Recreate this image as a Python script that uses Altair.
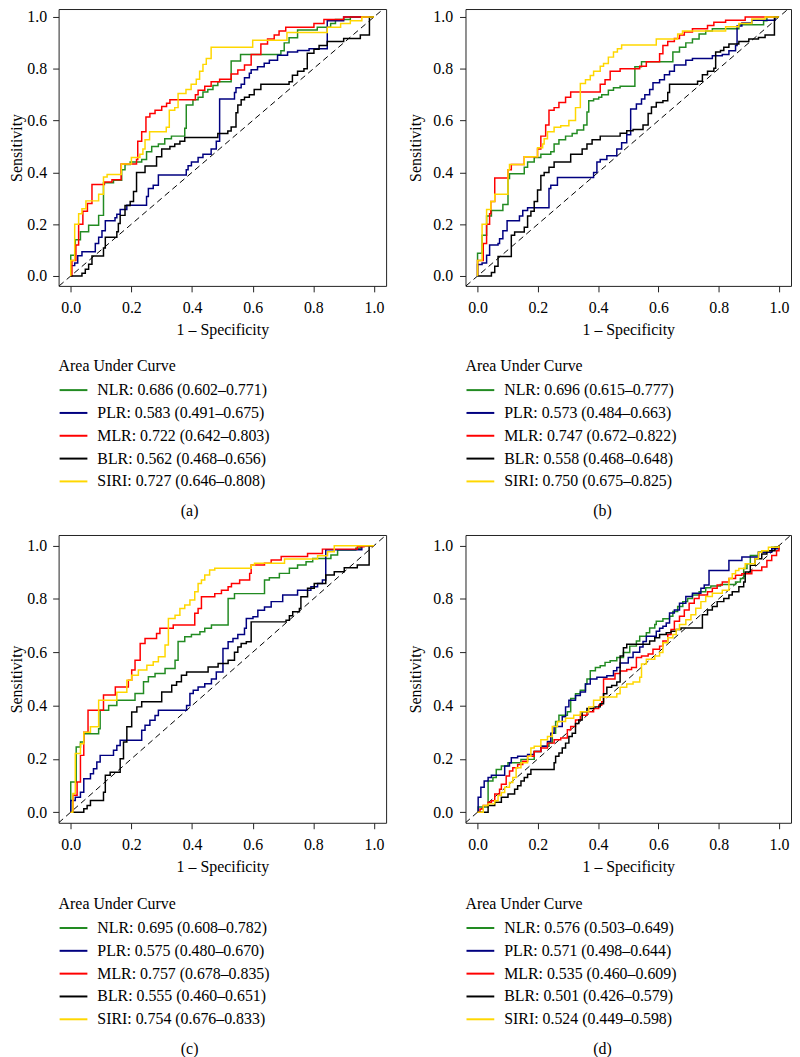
import altair as alt
import pandas as pd

FONT = "Liberation Serif"
SERIES = ["NLR", "PLR", "MLR", "BLR", "SIRI"]
COLORS = ["#228B22", "#000080", "#FF0000", "#000000", "#FFD700"]
TICKS = [0.0, 0.2, 0.4, 0.6, 0.8, 1.0]

# ---------------- panel (a) ----------------
A_NLR = [(0,0),(0,0.08),(0.015,0.14),(0.032,0.171),(0.059,0.196),(0.092,0.234),(0.108,0.36),(0.141,0.37),(0.168,0.41),(0.179,0.43),(0.196,0.44),(0.234,0.45),(0.25,0.48),(0.267,0.5),(0.289,0.51),(0.31,0.53),(0.332,0.54),(0.376,0.57),(0.381,0.66),(0.403,0.68),(0.42,0.69),(0.436,0.71),(0.452,0.72),(0.469,0.735),(0.485,0.75),(0.529,0.83),(0.56,0.855),(0.693,0.87),(0.704,0.9),(0.72,0.92),(0.748,0.95),(0.813,0.96),(0.857,0.975),(0.873,0.99),(0.922,1.0),(1,1)]
A_PLR = [(0,0),(0,0.04),(0.013,0.05),(0.023,0.078),(0.037,0.094),(0.081,0.125),(0.092,0.15),(0.103,0.175),(0.114,0.213),(0.146,0.225),(0.152,0.238),(0.163,0.257),(0.185,0.273),(0.25,0.307),(0.256,0.338),(0.272,0.35),(0.289,0.39),(0.381,0.41),(0.387,0.426),(0.398,0.44),(0.42,0.457),(0.436,0.47),(0.463,0.49),(0.48,0.52),(0.491,0.683),(0.54,0.708),(0.545,0.727),(0.562,0.74),(0.573,0.765),(0.589,0.783),(0.595,0.796),(0.616,0.808),(0.638,0.821),(0.655,0.833),(0.682,0.852),(0.715,0.865),(0.748,0.871),(0.786,0.877),(0.846,0.985),(0.9,1.0),(1,1)]
A_MLR = [(0,0),(0.004,0.06),(0.017,0.12),(0.026,0.2),(0.04,0.25),(0.055,0.28),(0.07,0.353),(0.111,0.363),(0.136,0.372),(0.166,0.432),(0.217,0.45),(0.221,0.52),(0.234,0.557),(0.248,0.614),(0.261,0.627),(0.278,0.64),(0.3,0.654),(0.316,0.667),(0.327,0.68),(0.411,0.7),(0.42,0.717),(0.442,0.733),(0.463,0.75),(0.491,0.76),(0.529,0.78),(0.551,0.795),(0.573,0.815),(0.595,0.855),(0.627,0.896),(0.649,0.915),(0.671,0.93),(0.687,0.946),(0.709,0.96),(0.802,0.975),(0.835,0.99),(0.9,1.0),(1,1)]
A_BLR = [(0,0),(0.037,0.011),(0.048,0.026),(0.059,0.045),(0.07,0.077),(0.108,0.108),(0.114,0.15),(0.152,0.171),(0.157,0.203),(0.163,0.234),(0.179,0.272),(0.196,0.288),(0.207,0.326),(0.217,0.40),(0.245,0.425),(0.283,0.46),(0.3,0.49),(0.327,0.5),(0.343,0.51),(0.36,0.52),(0.376,0.535),(0.485,0.55),(0.518,0.56),(0.529,0.575),(0.545,0.63),(0.551,0.66),(0.562,0.68),(0.573,0.69),(0.589,0.7),(0.605,0.72),(0.627,0.74),(0.72,0.75),(0.731,0.775),(0.748,0.79),(0.769,0.8),(0.78,0.86),(0.802,0.875),(0.819,0.89),(0.846,0.905),(0.9,0.917),(0.955,0.93),(0.985,1.0),(1,1)]
A_SIRI = [(0,0),(0,0.06),(0.013,0.2),(0.026,0.24),(0.037,0.26),(0.05,0.29),(0.092,0.316),(0.108,0.382),(0.12,0.392),(0.167,0.432),(0.2,0.457),(0.228,0.47),(0.238,0.49),(0.245,0.526),(0.26,0.557),(0.315,0.574),(0.325,0.64),(0.343,0.65),(0.354,0.705),(0.38,0.72),(0.397,0.74),(0.414,0.76),(0.425,0.79),(0.436,0.817),(0.447,0.84),(0.463,0.883),(0.6,0.91),(0.713,0.94),(0.846,0.96),(0.89,0.975),(0.922,0.985),(0.96,1.0),(1,1)]
A_AUC = ["0.686 (0.602–0.771)", "0.583 (0.491–0.675)", "0.722 (0.642–0.803)", "0.562 (0.468–0.656)", "0.727 (0.646–0.808)"]

# ---------------- panel (b) ----------------
B_NLR = [(0,0),(0,0.088),(0.015,0.157),(0.03,0.232),(0.046,0.253),(0.084,0.276),(0.101,0.376),(0.106,0.395),(0.155,0.42),(0.166,0.44),(0.188,0.457),(0.21,0.47),(0.243,0.48),(0.254,0.51),(0.27,0.526),(0.292,0.54),(0.314,0.55),(0.33,0.564),(0.352,0.583),(0.363,0.633),(0.369,0.677),(0.385,0.683),(0.402,0.69),(0.412,0.7),(0.434,0.717),(0.451,0.727),(0.473,0.733),(0.522,0.808),(0.544,0.827),(0.648,0.865),(0.67,0.883),(0.691,0.9),(0.713,0.915),(0.735,0.934),(0.757,0.946),(0.779,0.955),(0.867,0.97),(0.949,0.985),(0.96,1.0),(1,1)]
B_PLR = [(0,0),(0,0.044),(0.015,0.05),(0.03,0.08),(0.04,0.12),(0.068,0.125),(0.073,0.144),(0.084,0.175),(0.098,0.213),(0.139,0.232),(0.15,0.253),(0.166,0.263),(0.237,0.338),(0.243,0.35),(0.265,0.38),(0.385,0.4),(0.396,0.44),(0.407,0.45),(0.429,0.464),(0.462,0.49),(0.478,0.514),(0.495,0.545),(0.508,0.645),(0.527,0.664),(0.544,0.683),(0.555,0.7),(0.571,0.72),(0.582,0.746),(0.604,0.758),(0.62,0.777),(0.637,0.79),(0.653,0.815),(0.691,0.833),(0.713,0.84),(0.779,0.85),(0.812,0.855),(0.834,0.87),(0.856,0.89),(0.861,0.965),(0.877,0.977),(0.91,0.987),(0.987,1.0),(1,1)]
B_MLR = [(0,0),(0,0.06),(0.019,0.125),(0.03,0.2),(0.04,0.24),(0.044,0.288),(0.057,0.378),(0.101,0.41),(0.112,0.43),(0.155,0.46),(0.199,0.49),(0.21,0.54),(0.226,0.583),(0.237,0.64),(0.254,0.65),(0.27,0.67),(0.292,0.69),(0.309,0.71),(0.407,0.74),(0.423,0.758),(0.44,0.79),(0.473,0.8),(0.538,0.81),(0.56,0.827),(0.604,0.858),(0.615,0.89),(0.631,0.905),(0.653,0.917),(0.67,0.93),(0.686,0.942),(0.713,0.955),(0.763,0.967),(0.784,0.98),(0.823,0.987),(0.888,1.0),(1,1)]
B_BLR = [(0,0),(0.046,0.013),(0.057,0.038),(0.068,0.075),(0.112,0.157),(0.123,0.17),(0.155,0.188),(0.166,0.232),(0.177,0.25),(0.188,0.288),(0.199,0.332),(0.21,0.388),(0.221,0.4),(0.237,0.42),(0.254,0.44),(0.309,0.47),(0.347,0.49),(0.363,0.51),(0.38,0.526),(0.407,0.54),(0.473,0.551),(0.495,0.561),(0.516,0.566),(0.549,0.583),(0.566,0.627),(0.577,0.652),(0.593,0.67),(0.615,0.677),(0.631,0.708),(0.637,0.74),(0.73,0.752),(0.746,0.777),(0.763,0.79),(0.784,0.802),(0.79,0.865),(0.806,0.871),(0.817,0.883),(0.834,0.896),(0.867,0.905),(0.9,0.915),(0.932,0.921),(0.954,0.93),(0.985,1.0),(1,1)]
B_SIRI = [(0,0),(0,0.06),(0.015,0.2),(0.03,0.257),(0.044,0.288),(0.057,0.316),(0.101,0.41),(0.106,0.43),(0.155,0.46),(0.199,0.495),(0.216,0.51),(0.221,0.53),(0.232,0.557),(0.254,0.574),(0.276,0.58),(0.303,0.6),(0.325,0.65),(0.341,0.743),(0.358,0.758),(0.374,0.774),(0.385,0.79),(0.407,0.81),(0.418,0.82),(0.434,0.845),(0.451,0.865),(0.464,0.877),(0.478,0.892),(0.593,0.915),(0.664,0.934),(0.68,0.946),(0.823,0.962),(0.867,0.975),(0.91,0.992),(0.954,1.0),(1,1)]
B_AUC = ["0.696 (0.615–0.777)", "0.573 (0.484–0.663)", "0.747 (0.672–0.822)", "0.558 (0.468–0.648)", "0.750 (0.675–0.825)"]

# ---------------- panel (c) ----------------
C_NLR = [(0,0),(0,0.113),(0.018,0.244),(0.032,0.263),(0.043,0.294),(0.092,0.313),(0.097,0.382),(0.125,0.4),(0.152,0.42),(0.212,0.445),(0.24,0.489),(0.256,0.508),(0.278,0.52),(0.311,0.539),(0.344,0.57),(0.354,0.64),(0.376,0.658),(0.398,0.667),(0.426,0.677),(0.442,0.69),(0.464,0.702),(0.519,0.802),(0.54,0.82),(0.639,0.871),(0.655,0.88),(0.688,0.896),(0.721,0.915),(0.748,0.927),(0.776,0.94),(0.798,0.952),(0.858,0.965),(0.88,0.984),(0.94,0.99),(0.956,1.0),(1,1)]
C_PLR = [(0,0),(0,0.044),(0.015,0.056),(0.032,0.075),(0.043,0.125),(0.065,0.144),(0.075,0.163),(0.086,0.188),(0.097,0.213),(0.141,0.232),(0.152,0.25),(0.163,0.27),(0.234,0.307),(0.245,0.326),(0.261,0.345),(0.278,0.363),(0.289,0.382),(0.382,0.4),(0.393,0.445),(0.404,0.457),(0.42,0.47),(0.442,0.482),(0.464,0.5),(0.48,0.526),(0.502,0.614),(0.519,0.639),(0.535,0.652),(0.551,0.667),(0.573,0.69),(0.579,0.727),(0.601,0.733),(0.617,0.758),(0.639,0.77),(0.661,0.79),(0.699,0.815),(0.748,0.833),(0.792,0.846),(0.814,0.858),(0.83,0.871),(0.841,0.985),(0.96,1.0),(1,1)]
C_MLR = [(0,0),(0.007,0.063),(0.021,0.113),(0.032,0.213),(0.043,0.3),(0.057,0.382),(0.108,0.44),(0.147,0.47),(0.19,0.495),(0.201,0.533),(0.212,0.57),(0.229,0.633),(0.245,0.652),(0.283,0.67),(0.294,0.69),(0.338,0.702),(0.409,0.746),(0.42,0.764),(0.431,0.808),(0.475,0.82),(0.497,0.833),(0.519,0.846),(0.53,0.858),(0.557,0.871),(0.59,0.896),(0.595,0.927),(0.639,0.934),(0.661,0.946),(0.694,0.959),(0.781,0.971),(0.83,0.987),(0.945,0.996),(0.967,1.0),(1,1)]
C_BLR = [(0,0),(0.043,0.013),(0.054,0.025),(0.065,0.044),(0.108,0.075),(0.114,0.138),(0.13,0.15),(0.163,0.2),(0.174,0.263),(0.185,0.32),(0.201,0.376),(0.218,0.395),(0.234,0.414),(0.3,0.451),(0.333,0.476),(0.349,0.489),(0.365,0.514),(0.382,0.526),(0.453,0.545),(0.486,0.558),(0.519,0.57),(0.54,0.6),(0.551,0.62),(0.562,0.633),(0.579,0.639),(0.595,0.714),(0.71,0.72),(0.721,0.737),(0.732,0.752),(0.754,0.764),(0.759,0.808),(0.781,0.84),(0.803,0.858),(0.841,0.89),(0.869,0.902),(0.902,0.917),(0.945,0.927),(0.984,1.0),(1,1)]
C_SIRI = [(0,0),(0.007,0.07),(0.015,0.22),(0.032,0.257),(0.043,0.3),(0.065,0.32),(0.092,0.42),(0.152,0.45),(0.185,0.495),(0.201,0.514),(0.223,0.533),(0.251,0.551),(0.272,0.564),(0.289,0.583),(0.311,0.627),(0.322,0.727),(0.344,0.739),(0.36,0.764),(0.376,0.777),(0.393,0.796),(0.409,0.827),(0.42,0.858),(0.431,0.871),(0.442,0.89),(0.458,0.909),(0.475,0.915),(0.595,0.927),(0.606,0.934),(0.705,0.95),(0.814,0.962),(0.847,0.977),(0.869,1.0),(1,1)]
C_AUC = ["0.695 (0.608–0.782)", "0.575 (0.480–0.670)", "0.757 (0.678–0.835)", "0.555 (0.460–0.651)", "0.754 (0.676–0.833)"]

# ---------------- panel (d) ----------------
D_NLR = [(0,0),(0.002,0.019),(0.035,0.117),(0.051,0.13),(0.062,0.16),(0.079,0.173),(0.101,0.185),(0.144,0.198),(0.188,0.228),(0.21,0.247),(0.237,0.26),(0.248,0.296),(0.259,0.34),(0.27,0.364),(0.298,0.377),(0.309,0.426),(0.325,0.444),(0.341,0.457),(0.358,0.481),(0.363,0.5),(0.374,0.531),(0.391,0.543),(0.407,0.549),(0.423,0.562),(0.44,0.568),(0.462,0.58),(0.484,0.599),(0.505,0.623),(0.527,0.642),(0.538,0.66),(0.56,0.673),(0.571,0.691),(0.588,0.704),(0.593,0.716),(0.615,0.726),(0.637,0.735),(0.648,0.753),(0.664,0.772),(0.681,0.79),(0.697,0.802),(0.713,0.815),(0.735,0.827),(0.757,0.842),(0.774,0.849),(0.806,0.854),(0.856,0.864),(0.872,0.877),(0.883,0.914),(0.894,0.932),(0.905,0.963),(0.932,0.975),(0.954,0.981),(0.976,0.994),(1,1)]
D_PLR = [(0,0),(0.002,0.056),(0.011,0.093),(0.022,0.117),(0.035,0.13),(0.046,0.138),(0.09,0.173),(0.106,0.185),(0.112,0.204),(0.133,0.21),(0.166,0.216),(0.188,0.228),(0.21,0.247),(0.232,0.265),(0.243,0.296),(0.254,0.321),(0.281,0.358),(0.292,0.395),(0.303,0.42),(0.325,0.438),(0.341,0.451),(0.358,0.481),(0.374,0.5),(0.396,0.506),(0.429,0.512),(0.451,0.531),(0.462,0.543),(0.473,0.56),(0.5,0.58),(0.516,0.6),(0.538,0.62),(0.549,0.64),(0.56,0.66),(0.593,0.679),(0.604,0.69),(0.615,0.698),(0.626,0.71),(0.637,0.747),(0.653,0.759),(0.67,0.784),(0.691,0.809),(0.713,0.821),(0.741,0.84),(0.752,0.852),(0.768,0.907),(0.834,0.944),(0.877,0.957),(0.932,0.975),(0.976,0.988),(1,1)]
D_MLR = [(0,0),(0.008,0.012),(0.019,0.025),(0.035,0.037),(0.046,0.043),(0.057,0.068),(0.073,0.086),(0.079,0.105),(0.095,0.136),(0.106,0.154),(0.117,0.167),(0.133,0.179),(0.15,0.191),(0.166,0.21),(0.188,0.228),(0.21,0.241),(0.232,0.259),(0.254,0.272),(0.276,0.278),(0.298,0.309),(0.309,0.321),(0.325,0.346),(0.341,0.364),(0.363,0.377),(0.385,0.389),(0.402,0.401),(0.412,0.414),(0.418,0.5),(0.456,0.52),(0.473,0.53),(0.495,0.535),(0.511,0.543),(0.527,0.58),(0.544,0.586),(0.566,0.593),(0.582,0.611),(0.604,0.623),(0.615,0.642),(0.631,0.667),(0.642,0.685),(0.653,0.716),(0.67,0.735),(0.686,0.759),(0.702,0.784),(0.719,0.802),(0.735,0.815),(0.763,0.827),(0.779,0.84),(0.795,0.852),(0.812,0.864),(0.834,0.877),(0.856,0.889),(0.877,0.895),(0.91,0.907),(0.943,0.92),(0.96,0.944),(0.976,0.963),(0.992,0.981),(1,1)]
D_BLR = [(0,0),(0.035,0.025),(0.057,0.037),(0.079,0.056),(0.101,0.068),(0.123,0.086),(0.133,0.099),(0.144,0.117),(0.155,0.13),(0.166,0.142),(0.177,0.16),(0.254,0.185),(0.259,0.21),(0.27,0.222),(0.281,0.241),(0.292,0.259),(0.303,0.284),(0.314,0.296),(0.325,0.333),(0.336,0.346),(0.347,0.377),(0.363,0.389),(0.385,0.395),(0.407,0.407),(0.418,0.444),(0.429,0.469),(0.445,0.475),(0.462,0.488),(0.473,0.586),(0.484,0.617),(0.495,0.63),(0.571,0.642),(0.588,0.654),(0.604,0.667),(0.626,0.673),(0.642,0.679),(0.659,0.685),(0.675,0.691),(0.746,0.741),(0.763,0.759),(0.779,0.772),(0.795,0.79),(0.817,0.802),(0.834,0.815),(0.845,0.827),(0.867,0.846),(0.883,0.864),(0.888,0.901),(0.905,0.926),(0.921,0.951),(0.943,0.969),(0.96,0.981),(0.987,0.994),(1,1)]
D_SIRI = [(0,0),(0.019,0.025),(0.035,0.031),(0.057,0.043),(0.068,0.062),(0.079,0.074),(0.09,0.093),(0.106,0.111),(0.117,0.13),(0.128,0.167),(0.144,0.185),(0.166,0.21),(0.177,0.241),(0.188,0.247),(0.21,0.272),(0.232,0.284),(0.248,0.321),(0.265,0.34),(0.292,0.352),(0.319,0.364),(0.341,0.377),(0.369,0.395),(0.385,0.42),(0.407,0.432),(0.462,0.444),(0.473,0.469),(0.495,0.481),(0.516,0.488),(0.538,0.506),(0.544,0.556),(0.56,0.574),(0.588,0.586),(0.604,0.599),(0.615,0.636),(0.631,0.654),(0.648,0.667),(0.659,0.685),(0.67,0.704),(0.691,0.722),(0.708,0.741),(0.724,0.765),(0.741,0.79),(0.757,0.809),(0.779,0.821),(0.812,0.833),(0.834,0.877),(0.845,0.895),(0.856,0.907),(0.867,0.914),(0.888,0.932),(0.921,0.951),(0.932,0.975),(0.943,0.981),(0.965,0.994),(1,1)]
D_AUC = ["0.576 (0.503–0.649)", "0.571 (0.498–0.644)", "0.535 (0.460–0.609)", "0.501 (0.426–0.579)", "0.524 (0.449–0.598)"]

X_DOMAIN = [-0.04, 1.04]
ROW1_Y = [-0.0383, 1.0307]
ROW2_Y = [-0.04, 1.04]


def panel(curves, aucs, caption, ydom, width, height, legend_y, left):
    labels = [f"{s}: {a}" for s, a in zip(SERIES, aucs)]
    rows = []
    for lab, pts in zip(labels, curves):
        for i, (x, y) in enumerate(pts):
            rows.append({"fpr": x, "tpr": y, "curve": lab, "i": i})
    df = pd.DataFrame(rows)
    lo = max(X_DOMAIN[0], ydom[0])
    hi = min(X_DOMAIN[1], ydom[1])
    diag_df = pd.DataFrame({"fpr": [lo, hi], "tpr": [lo, hi]})

    xs = alt.Scale(domain=X_DOMAIN, nice=False, zero=False)
    ys = alt.Scale(domain=ydom, nice=False, zero=False)
    common = dict(labelFont=FONT, labelFontSize=16, labelColor="black",
                  titleFont=FONT, titleFontSize=16, titleFontWeight="normal",
                  titleColor="black", tickSize=6, tickColor="#222",
                  domain=False, grid=False, labelFlush=False, values=TICKS,
                  format=".1f")
    xaxis = alt.Axis(title="1 – Specificity", labelPadding=8, titlePadding=6, **common)
    yaxis = alt.Axis(title="Sensitivity", labelPadding=6 if left else 7,
                     titlePadding=2 if left else 9, **common)
    X = alt.X("fpr:Q", scale=xs, axis=xaxis)
    Y = alt.Y("tpr:Q", scale=ys, axis=yaxis)

    diag = alt.Chart(diag_df).mark_line(
        strokeDash=[6, 4], color="black", strokeWidth=1, clip=True
    ).encode(x=X, y=Y)

    lines = alt.Chart(df).mark_line(
        interpolate="step-after", strokeWidth=1.5, clip=True
    ).encode(
        x=X, y=Y,
        order=alt.Order("i:Q"),
        color=alt.Color(
            "curve:N",
            scale=alt.Scale(domain=labels, range=COLORS),
            legend=alt.Legend(
                orient="none", legendX=0, legendY=legend_y, direction="vertical",
                title="Area Under Curve", titleFont=FONT, titleFontSize=16,
                titleFontWeight="normal", titleColor="black", titlePadding=1,
                labelFont=FONT, labelFontSize=16, labelColor="black",
                labelLimit=400, labelOffset=9, symbolType="stroke",
                symbolSize=784, symbolStrokeWidth=2, rowPadding=0, padding=0,
            ),
        ),
    )
    return alt.layer(diag, lines).properties(
        width=width, height=height,
        title=alt.TitleParams(caption, orient="bottom", anchor="middle", frame="group",
                              dx=-33 if left else -26, offset=14, font=FONT, fontSize=16,
                              fontWeight="normal", color="black"),
    )


pa = panel([A_NLR, A_PLR, A_MLR, A_BLR, A_SIRI], A_AUC, "(a)", ROW1_Y, 330, 279, 352, True)
pb = panel([B_NLR, B_PLR, B_MLR, B_BLR, B_SIRI], B_AUC, "(b)", ROW1_Y, 328, 279, 352, False)
pc = panel([C_NLR, C_PLR, C_MLR, C_BLR, C_SIRI], C_AUC, "(c)", ROW2_Y, 330, 290, 364, True)
pd_ = panel([D_NLR, D_PLR, D_MLR, D_BLR, D_SIRI], D_AUC, "(d)", ROW2_Y, 328, 290, 364, False)

chart = alt.concat(
    pa, pb, pc, pd_, columns=2, spacing={"row": 251, "column": 80}, bounds="flush"
).resolve_scale(
    color="independent", x="independent", y="independent"
).resolve_legend(
    color="independent"
).properties(
    padding={"top": -4, "left": 0, "right": 0, "bottom": 0}
).configure_view(stroke="#222", strokeWidth=1)

chart.save("out.html", embed_options={"renderer": "svg", "actions": False})
